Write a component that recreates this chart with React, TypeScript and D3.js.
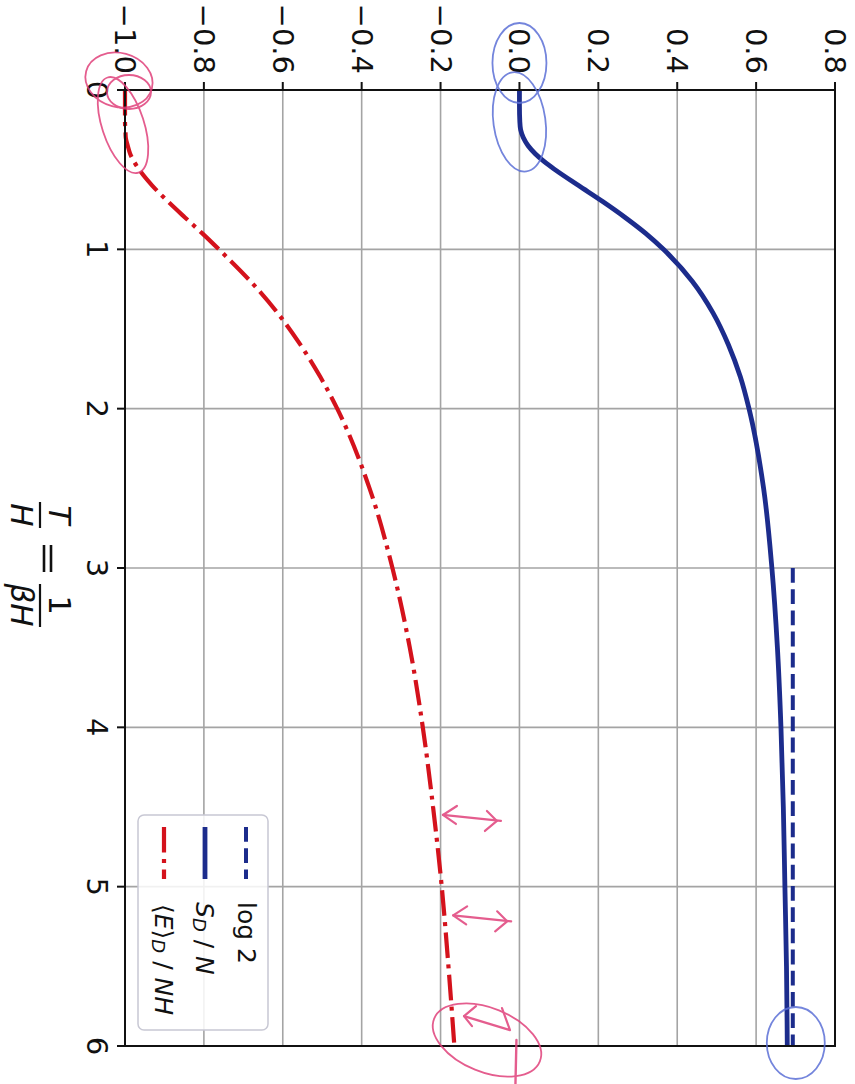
import React from "react";
import * as d3 from "d3";

// T/H sample points and the two curves
const temps = [0, 0.1, 0.2, 0.25, 0.3, 0.35, 0.4, 0.45, 0.5, 0.6, 0.7, 0.8, 0.9, 1.0, 1.2, 1.4, 1.6, 1.8, 2.0, 2.5, 3.0, 3.5, 4.0, 4.5, 5.0, 5.5, 6.0];
const entropy = [0, 0, 0.001, 0.003, 0.01, 0.022, 0.04, 0.063, 0.09, 0.15, 0.211, 0.268, 0.32, 0.365, 0.438, 0.491, 0.53, 0.56, 0.582, 0.619, 0.64, 0.654, 0.663, 0.669, 0.673, 0.677, 0.679];
const energy = [-1.0, -1.0, -1.0, -0.999, -0.998, -0.993, -0.987, -0.977, -0.964, -0.931, -0.891, -0.848, -0.804, -0.762, -0.682, -0.613, -0.555, -0.505, -0.462, -0.38, -0.322, -0.278, -0.245, -0.219, -0.197, -0.18, -0.165];

const log2Temps = [3, 6];
const log2Value = 0.693;

const tTicks = [0, 1, 2, 3, 4, 5, 6];
const vTicks = [-1.0, -0.8, -0.6, -0.4, -0.2, 0.0, 0.2, 0.4, 0.6, 0.8];

// pen marks on the scan: T positions of the arrows next to the red curve
const arrowTemps = [4.55, 5.18];

const BLUE = "#1c2c8c";
const RED = "#d4121c";
const PINK = "#e0407a";
const PEN_BLUE = "#5b6fd6";
const FONT = "DejaVu Sans, sans-serif";

export default function App() {
  const width = 855;
  const height = 1084;

  // the chart is rotated: T runs down the page, values run left to right
  const tScale = d3.scaleLinear().domain([0, 6]).range([90, 1046]);
  const vScale = d3.scaleLinear().domain([-1.0, 0.8]).range([125, 835]);

  const fmt = d3.format(".1f");

  const line = d3
    .line<[number, number]>()
    .x((d) => vScale(d[1]))
    .y((d) => tScale(d[0]))
    .curve(d3.curveMonotoneY);

  const sPath = line(temps.map((t, i) => [t, entropy[i]]));
  const ePath = line(temps.map((t, i) => [t, energy[i]]));
  const logPath = line(log2Temps.map((t) => [t, log2Value]));

  const energyAt = d3.scaleLinear().domain(temps).range(energy);

  const [x0, x1] = vScale.range();
  const [y0, y1] = tScale.range();

  const dashDot = "25.6 6.4 4 6.4";
  const dashed = "14.8 6.4";

  return (
    <svg
      width={width}
      height={height}
      style={{ position: "absolute", left: 0, top: 0, background: "#fff" }}
    >
      {/* grid */}
      <g stroke="#a4a4a4" strokeWidth={1.6}>
        {vTicks.map((v) => (
          <line key={`gv${v}`} x1={vScale(v)} x2={vScale(v)} y1={y0} y2={y1} />
        ))}
        {tTicks.map((t) => (
          <line key={`gt${t}`} x1={x0} x2={x1} y1={tScale(t)} y2={tScale(t)} />
        ))}
      </g>

      {/* curves */}
      <path d={logPath!} fill="none" stroke={BLUE} strokeWidth={4} strokeDasharray={dashed} />
      <path d={sPath!} fill="none" stroke={BLUE} strokeWidth={4.8} />
      <path d={ePath!} fill="none" stroke={RED} strokeWidth={4.2} strokeDasharray={dashDot} />

      {/* spines */}
      <rect x={x0} y={y0} width={x1 - x0} height={y1 - y0} fill="none" stroke="#111" strokeWidth={2} />

      {/* value axis on top, T axis on the left */}
      <g fontFamily={FONT} fontSize={29} fill="#111">
        {vTicks.map((v) => (
          <g key={`tv${v}`}>
            <line x1={vScale(v)} x2={vScale(v)} y1={y0 - 8} y2={y0} stroke="#111" strokeWidth={2} />
            <text
              transform={`translate(${vScale(v)},74) rotate(90)`}
              textAnchor="end"
              dominantBaseline="central"
            >
              {fmt(v)}
            </text>
          </g>
        ))}
        {tTicks.map((t) => (
          <g key={`tt${t}`}>
            <line x1={x0 - 8} x2={x0} y1={tScale(t)} y2={tScale(t)} stroke="#111" strokeWidth={2} />
            <text transform={`translate(87,${tScale(t)}) rotate(90)`} textAnchor="middle">
              {t}
            </text>
          </g>
        ))}
      </g>

      {/* axis label T/H = 1/(βH) */}
      <g transform="translate(42,565) rotate(90)" fontFamily={FONT} fontSize={31} fill="#111">
        <text x={-50} y={-7} textAnchor="middle" fontStyle="italic">T</text>
        <line x1={-63} x2={-37} y1={2} y2={2} stroke="#111" strokeWidth={2.2} />
        <text x={-50} y={31} textAnchor="middle" fontStyle="italic">H</text>
        <line x1={-20} x2={7} y1={-2} y2={-2} stroke="#111" strokeWidth={2.6} />
        <line x1={-20} x2={7} y1={-9} y2={-9} stroke="#111" strokeWidth={2.6} />
        <text x={40} y={-7} textAnchor="middle">1</text>
        <line x1={19} x2={62} y1={2} y2={2} stroke="#111" strokeWidth={2.2} />
        <text x={40} y={31} textAnchor="middle" fontStyle="italic">βH</text>
      </g>

      {/* legend */}
      <g fontFamily={FONT} fontSize={25} fill="#111">
        <rect x={138} y={815} width={130} height={215} rx={6} fill="#fff" fillOpacity={0.85} stroke="#c8c8d4" strokeWidth={1.5} />
        <line x1={246} x2={246} y1={827} y2={879} stroke={BLUE} strokeWidth={4} strokeDasharray={dashed} />
        <line x1={205} x2={205} y1={827} y2={879} stroke={BLUE} strokeWidth={4.8} />
        <line x1={164} x2={164} y1={827} y2={879} stroke={RED} strokeWidth={4.2} strokeDasharray={dashDot} />
        <text transform="translate(246,902) rotate(90)" dominantBaseline="central">log 2</text>
        <text transform="translate(205,902) rotate(90)" dominantBaseline="central">
          <tspan fontStyle="italic">S</tspan>
          <tspan fontStyle="italic" fontSize={18} dy={5}>D</tspan>
          <tspan dy={-5}> / </tspan>
          <tspan fontStyle="italic">N</tspan>
        </text>
        <text transform="translate(164,904) rotate(90)" dominantBaseline="central">
          <tspan>⟨</tspan>
          <tspan fontStyle="italic">E</tspan>
          <tspan>⟩</tspan>
          <tspan fontStyle="italic" fontSize={18} dy={5}>D</tspan>
          <tspan dy={-5}> / </tspan>
          <tspan fontStyle="italic">NH</tspan>
        </text>
      </g>

      {/* hand-drawn pen marks on the scan */}
      <g fill="none" strokeLinecap="round" strokeLinejoin="round">
        <g stroke={PINK} strokeWidth={1.8} opacity={0.85}>
          <ellipse cx={vScale(-1.0) - 6} cy={y0 - 10} rx={34} ry={27} transform={`rotate(15 ${vScale(-1.0) - 6} ${y0 - 10})`} />
          <ellipse cx={vScale(-1.0) + 4} cy={y0 + 2} rx={22} ry={17} />
          <ellipse cx={vScale(-1.0) - 2} cy={tScale(0.22)} rx={21} ry={50} transform={`rotate(-18 ${vScale(-1.0) - 2} ${tScale(0.22)})`} />
          {arrowTemps.map((t) => {
            const xa = vScale(energyAt(t)) + 9;
            const ya = tScale(t);
            const xb = xa + 58;
            const yb = ya + 6;
            return (
              <g key={`ar${t}`}>
                <line x1={xa} y1={ya} x2={xb} y2={yb} strokeWidth={2.2} />
                <path d={`M${xa + 14},${ya - 9} L${xa},${ya} L${xa + 13},${ya + 9}`} strokeWidth={2.2} />
                <path d={`M${xb - 14},${yb - 10} L${xb - 4},${yb} L${xb - 16},${yb + 10}`} strokeWidth={2.2} />
              </g>
            );
          })}
          <path
            d={`M${vScale(energyAt(5.8)) + 12},${tScale(5.8) + 2} L${vScale(energyAt(5.8)) + 58},${tScale(5.8) + 16} L${vScale(energyAt(5.8)) + 50},${tScale(5.8) - 6}`}
            strokeWidth={2.2}
          />
          <path
            d={`M${vScale(energyAt(5.8)) + 24},${tScale(5.8) - 8} L${vScale(energyAt(5.8)) + 12},${tScale(5.8) + 2} L${vScale(energyAt(5.8)) + 20},${tScale(5.8) + 12}`}
            strokeWidth={2.2}
          />
          <ellipse cx={487} cy={1040} rx={57} ry={32} transform="rotate(22 487 1040)" />
          <line x1={vScale(0.0) - 3} x2={vScale(0.0) - 4} y1={y1 - 6} y2={height} strokeWidth={2.4} />
        </g>
        <g stroke={PEN_BLUE} strokeWidth={1.8} opacity={0.85}>
          <ellipse cx={vScale(0.0)} cy={63} rx={27} ry={40} />
          <ellipse cx={vScale(0.0)} cy={tScale(0.2)} rx={26} ry={50} transform={`rotate(-8 ${vScale(0.0)} ${tScale(0.2)})`} />
          <ellipse cx={vScale(log2Value) + 3} cy={y1 - 3} rx={29} ry={36} />
        </g>
      </g>
    </svg>
  );
}
